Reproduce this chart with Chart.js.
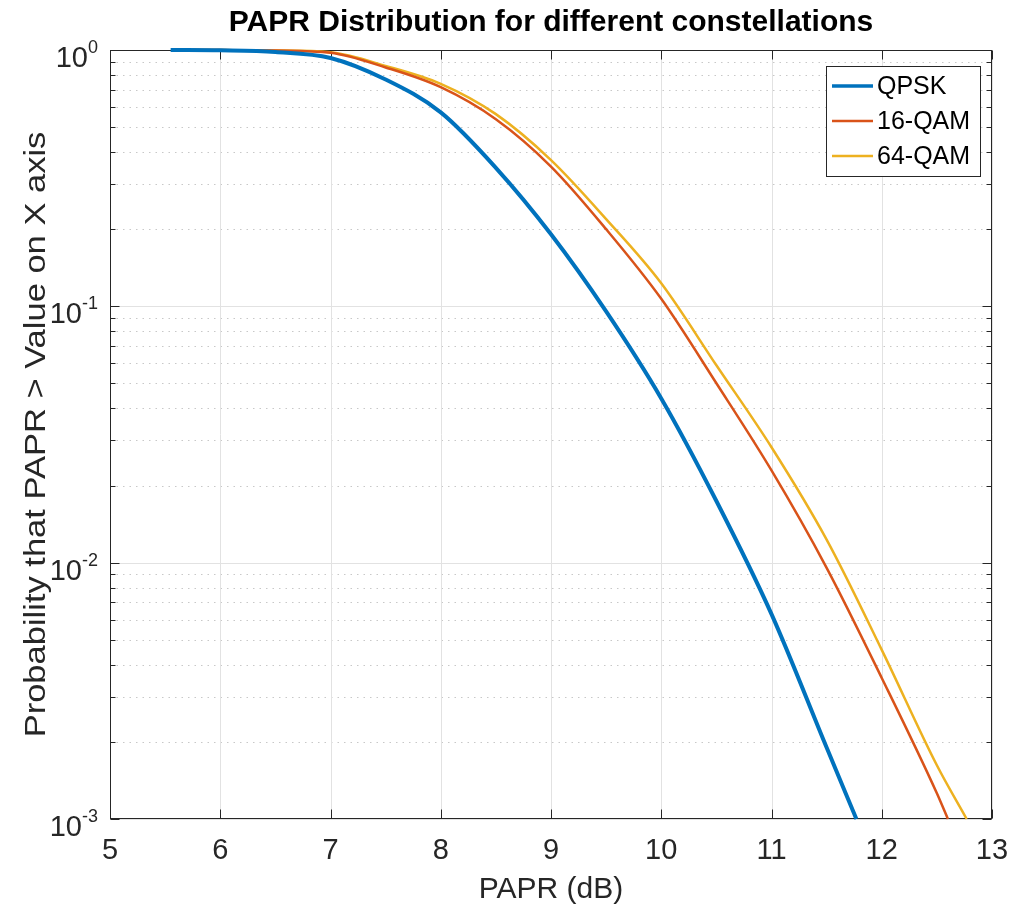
<!DOCTYPE html>
<html>
<head>
<meta charset="utf-8">
<script src="https://cdn.jsdelivr.net/npm/chart.js@4.4.0/dist/chart.umd.min.js"></script>
<style>
  html, body { margin: 0; padding: 0; background: #fff; }
  canvas { display: block; }
</style>
</head>
<body>
<canvas id="papr" width="1010" height="911"></canvas>
<script>
// PAPR CCDF
const qpskX = [5.55, 6.0, 6.5, 7.0, 7.5, 8.0, 8.5, 9.0, 9.5, 10.0, 10.5, 11.0, 11.5, 11.77];
const qpskY = [1.0, 0.997, 0.982, 0.931, 0.767, 0.571, 0.347, 0.191, 0.0955, 0.0437, 0.0174, 0.0063, 0.0019, 0.001];

const qam16X = [5.75, 6.0, 6.5, 7.0, 7.5, 8.0, 8.5, 9.0, 9.5, 10.0, 10.5, 11.0, 11.5, 12.0, 12.5, 12.6];
const qam16Y = [1.0, 0.999, 0.995, 0.975, 0.855, 0.716, 0.537, 0.351, 0.2, 0.107, 0.0501, 0.0229, 0.00955, 0.00355, 0.00126, 0.001];

const qam64X = [5.75, 6.0, 6.5, 7.0, 7.5, 8.0, 8.5, 9.0, 9.5, 10.0, 10.5, 11.0, 11.5, 12.0, 12.5, 12.77];
const qam64Y = [1.0, 0.999, 0.996, 0.979, 0.867, 0.738, 0.562, 0.372, 0.219, 0.123, 0.0589, 0.0282, 0.0123, 0.00457, 0.00162, 0.001];

const seriesNames = ['QPSK', '16-QAM', '64-QAM'];
const xTickValues = [5, 6, 7, 8, 9, 10, 11, 12, 13];
const yDecades = [1, 0.1, 0.01, 0.001];
const yDecadeExp = ['0', '-1', '-2', '-3'];

const chartTitle = 'PAPR Distribution for different constellations';
const xTitle = 'PAPR (dB)';
const yTitle = 'Probability that PAPR > Value on X axis';

const FONT = '"Liberation Sans", Arial, Helvetica, sans-serif';
const INK = '#262626';

const toPoints = (xs, ys) => xs.map((x, i) => ({ x, y: ys[i] }));

// grid, inward ticks, box, labels and legend drawn MATLAB style
const matlabAxes = {
  id: 'matlabAxes',
  beforeDatasetsDraw(chart) {
    const { ctx, chartArea: a, scales: { x, y } } = chart;
    ctx.save();
    ctx.lineWidth = 1;

    // minor dotted horizontal grid
    ctx.strokeStyle = '#c8c8c8';
    ctx.setLineDash([1.5, 5]);
    yDecades.slice(1).forEach(d => {
      for (let m = 2; m <= 9; m++) {
        const py = Math.round(y.getPixelForValue(m * d)) + 0.5;
        ctx.beginPath(); ctx.moveTo(a.left, py); ctx.lineTo(a.right, py); ctx.stroke();
      }
    });
    ctx.setLineDash([]);

    // major grid
    ctx.strokeStyle = '#e2e2e2';
    xTickValues.forEach(v => {
      const px = Math.round(x.getPixelForValue(v)) + 0.5;
      ctx.beginPath(); ctx.moveTo(px, a.top); ctx.lineTo(px, a.bottom); ctx.stroke();
    });
    yDecades.forEach(v => {
      const py = Math.round(y.getPixelForValue(v)) + 0.5;
      ctx.beginPath(); ctx.moveTo(a.left, py); ctx.lineTo(a.right, py); ctx.stroke();
    });

    // box + ticks
    ctx.strokeStyle = INK;
    const L = Math.round(a.left) + 0.5, R = Math.round(a.right) - 0.5;
    const T = Math.round(a.top) + 0.5, B = Math.round(a.bottom) - 0.5;
    ctx.strokeRect(L, T, R - L, B - T);
    ctx.beginPath();
    xTickValues.forEach(v => {
      const px = Math.round(x.getPixelForValue(v)) + 0.5;
      ctx.moveTo(px, B); ctx.lineTo(px, B - 9);
      ctx.moveTo(px, T); ctx.lineTo(px, T + 9);
    });
    yDecades.forEach(d => {
      const py = Math.round(y.getPixelForValue(d)) + 0.5;
      ctx.moveTo(L, py); ctx.lineTo(L + 9, py);
      ctx.moveTo(R, py); ctx.lineTo(R - 9, py);
      if (d < 1) {
        for (let m = 2; m <= 9; m++) {
          const pm = Math.round(y.getPixelForValue(m * d)) + 0.5;
          ctx.moveTo(L, pm); ctx.lineTo(L + 5, pm);
          ctx.moveTo(R, pm); ctx.lineTo(R - 5, pm);
        }
      }
    });
    ctx.stroke();
    ctx.restore();
  },
  afterDatasetsDraw(chart) {
    const { ctx } = chart;
    const sets = chart.data.datasets;
    ctx.save();
    // legend
    const bx = 826, by = 66, bw = 154, bh = 110;
    ctx.fillStyle = '#fff';
    ctx.fillRect(bx, by, bw, bh);
    ctx.strokeStyle = INK;
    ctx.lineWidth = 1;
    ctx.strokeRect(bx + 0.5, by + 0.5, bw, bh);
    ctx.font = '25px ' + FONT;
    ctx.textBaseline = 'middle';
    ctx.textAlign = 'left';
    sets.forEach((ds, i) => {
      const ry = 86 + i * 35;
      ctx.strokeStyle = ds.borderColor;
      ctx.lineWidth = i === 0 ? 3.5 : 2.5;
      ctx.beginPath(); ctx.moveTo(832, ry); ctx.lineTo(873, ry); ctx.stroke();
      ctx.fillStyle = '#000';
      ctx.fillText(ds.label, 877, ry + 1);
    });
    ctx.restore();
  },
  afterDraw(chart) {
    const { ctx, chartArea: a, scales: { y } } = chart;
    ctx.save();
    ctx.fillStyle = INK;
    ctx.textAlign = 'right';
    ctx.textBaseline = 'alphabetic';
    yDecades.forEach((d, i) => {
      const py = y.getPixelForValue(d);
      ctx.font = '18px ' + FONT;
      const ew = ctx.measureText(yDecadeExp[i]).width;
      ctx.fillText(yDecadeExp[i], 98, py + 3);
      ctx.font = '29px ' + FONT;
      ctx.fillText('10', 98 - ew, py + 17);
    });

    // titles
    ctx.fillStyle = '#000';
    ctx.textAlign = 'center';
    ctx.font = 'bold 30px ' + FONT;
    ctx.fillText(chartTitle, (a.left + a.right) / 2, 31);
    ctx.fillStyle = INK;
    ctx.font = '30px ' + FONT;
    ctx.fillText(xTitle, (a.left + a.right) / 2, 898);
    ctx.translate(45, (a.top + a.bottom) / 2);
    ctx.rotate(-Math.PI / 2);
    ctx.scale(1.15, 1);
    ctx.fillText(yTitle, 0, 0);
    ctx.restore();
  }
};

new Chart(document.getElementById('papr'), {
  type: 'line',
  data: {
    datasets: [
      { label: seriesNames[0], data: toPoints(qpskX, qpskY), borderColor: '#0072BD', borderWidth: 4 },
      { label: seriesNames[1], data: toPoints(qam16X, qam16Y), borderColor: '#D95319', borderWidth: 2.5 },
      { label: seriesNames[2], data: toPoints(qam64X, qam64Y), borderColor: '#EDB120', borderWidth: 2.5 }
    ].map(ds => ({ ...ds, fill: false, pointRadius: 0, cubicInterpolationMode: 'monotone', clip: 4 }))
  },
  options: {
    responsive: false,
    animation: false,
    layout: { padding: { top: 50, right: 18, left: 0, bottom: 0 } },
    plugins: { legend: { display: false }, tooltip: { enabled: false }, title: { display: false } },
    scales: {
      x: {
        type: 'linear', min: 5, max: 13,
        ticks: { stepSize: 1, color: INK, font: { family: FONT, size: 29 }, padding: 15, maxRotation: 0 },
        grid: { display: false, drawTicks: false },
        border: { display: false },
        afterFit: s => { s.height = 92; s.paddingLeft = 0; s.paddingRight = 0; }
      },
      y: {
        type: 'logarithmic', min: 0.001, max: 1,
        ticks: { display: false },
        grid: { display: false, drawTicks: false },
        border: { display: false },
        afterFit: s => { s.width = 110; s.paddingTop = 0; s.paddingBottom = 0; }
      }
    }
  },
  plugins: [matlabAxes]
});
</script>
</body>
</html>
